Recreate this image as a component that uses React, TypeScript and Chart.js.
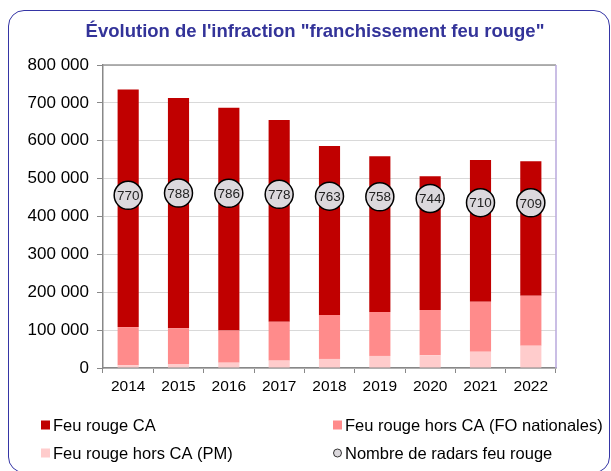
import React, { useEffect, useRef } from "react";
import { Chart, registerables } from "chart.js";

Chart.register(...registerables);

const years = ["2014", "2015", "2016", "2017", "2018", "2019", "2020", "2021", "2022"];
const feuRougeCA = [627000, 608000, 588000, 533000, 446000, 411000, 353000, 374000, 355000];
const horsCaFO = [101000, 94500, 85000, 102500, 116000, 116000, 119500, 132000, 132000];
const horsCaPM = [7000, 10500, 14000, 19500, 24000, 32000, 33500, 43000, 59000];
const radars = [770, 788, 786, 778, 763, 758, 744, 710, 709];

const titleText = "Évolution de l'infraction \"franchissement feu rouge\"";
const legendLabels = [
  "Feu rouge CA",
  "Feu rouge hors CA (FO nationales)",
  "Feu rouge hors CA (PM)",
  "Nombre de radars feu rouge",
];

const FONT = "'Liberation Sans', Arial, sans-serif";
const C_CA = "#c00000";
const C_FO = "#ff8b8b";
const C_PM = "#ffcccc";
const C_PT = "#dcd9dd";

function fmt(v: number): string {
  const s = Math.round(v).toString();
  return s.replace(/\B(?=(\d{3})+(?!\d))/g, " ");
}

const extrasPlugin = {
  id: "extras",
  afterDatasetsDraw(chart: any) {
    const ctx = chart.ctx;
    const meta = chart.getDatasetMeta(3);
    ctx.save();
    ctx.font = `13.5px ${FONT}`;
    ctx.fillStyle = "#222";
    ctx.textAlign = "center";
    ctx.textBaseline = "middle";
    meta.data.forEach((el: any, i: number) => {
      ctx.fillText(String(radars[i]), el.x, el.y + 1);
    });
    ctx.restore();
  },
  afterDraw(chart: any) {
    const ctx = chart.ctx;
    const a = chart.chartArea;
    ctx.save();
    // title
    ctx.font = `bold 18.5px ${FONT}`;
    ctx.fillStyle = "#333399";
    ctx.textAlign = "center";
    ctx.textBaseline = "middle";
    ctx.fillText(titleText, 315, 32);

    // plot border top / right
    ctx.lineWidth = 1.5;
    ctx.strokeStyle = "#999";
    ctx.beginPath();
    ctx.moveTo(a.left, a.top);
    ctx.lineTo(a.right, a.top);
    ctx.stroke();
    ctx.strokeStyle = "#b9a9dc";
    ctx.beginPath();
    ctx.moveTo(a.right, a.top);
    ctx.lineTo(a.right, a.bottom);
    ctx.stroke();

    // legend
    ctx.font = `16.5px ${FONT}`;
    ctx.textBaseline = "middle";
    ctx.textAlign = "left";
    const items = [
      { x: 41, y: 425, c: C_CA, t: legendLabels[0], shape: "sq" },
      { x: 333, y: 425, c: C_FO, t: legendLabels[1], shape: "sq" },
      { x: 41, y: 453, c: C_PM, t: legendLabels[2], shape: "sq" },
      { x: 333, y: 453, c: C_PT, t: legendLabels[3], shape: "ci" },
    ];
    items.forEach((it) => {
      if (it.shape === "sq") {
        ctx.fillStyle = it.c;
        ctx.fillRect(it.x, it.y - 4.5, 9, 9);
      } else {
        ctx.beginPath();
        ctx.arc(it.x + 4.5, it.y, 4, 0, Math.PI * 2);
        ctx.fillStyle = it.c;
        ctx.fill();
        ctx.lineWidth = 1;
        ctx.strokeStyle = "#333";
        ctx.stroke();
      }
      ctx.fillStyle = "#000";
      ctx.fillText(it.t, it.x + 12, it.y + 1);
    });
    ctx.restore();
  },
};

export default function App() {
  const ref = useRef<HTMLCanvasElement | null>(null);
  useEffect(() => {
    if (!ref.current) return;
    const chart = new Chart(ref.current, {
      type: "bar",
      data: {
        labels: years,
        datasets: [
          {
            type: "bar",
            label: legendLabels[2],
            data: horsCaPM,
            backgroundColor: C_PM,
            stack: "s",
            order: 1,
          },
          {
            type: "bar",
            label: legendLabels[1],
            data: horsCaFO,
            backgroundColor: C_FO,
            stack: "s",
            order: 1,
          },
          {
            type: "bar",
            label: legendLabels[0],
            data: feuRougeCA,
            backgroundColor: C_CA,
            stack: "s",
            order: 1,
          },
          {
            type: "line",
            label: legendLabels[3],
            data: radars,
            yAxisID: "y2",
            showLine: false,
            pointRadius: 14,
            pointHoverRadius: 14,
            pointBackgroundColor: C_PT,
            pointBorderColor: "#000",
            pointBorderWidth: 1.5,
            order: 0,
          } as any,
        ],
      },
      options: {
        animation: false,
        responsive: false,
        maintainAspectRatio: false,
        datasets: {
          bar: { barPercentage: 0.42, categoryPercentage: 1 },
        } as any,
        layout: { padding: { left: 0, right: 55, top: 65, bottom: 73 } },
        plugins: {
          legend: { display: false },
          tooltip: { enabled: false },
          title: { display: false },
        },
        scales: {
          x: {
            stacked: true,
            grid: {
              display: true,
              drawOnChartArea: false,
              drawTicks: true,
              tickLength: 5,
              tickColor: "#888",
              offset: true,
            },
            border: { display: true, color: "#888", width: 1.5 },
            ticks: {
              color: "#000",
              font: { family: FONT, size: 15.5 },
              padding: 4,
              maxRotation: 0,
            },
            afterFit: (s: any) => {
              s.height = 30;
            },
          },
          y: {
            stacked: true,
            min: 0,
            max: 800000,
            ticks: {
              stepSize: 100000,
              color: "#000",
              font: { family: FONT, size: 17 },
              padding: 8,
              callback: (v: any) => fmt(Number(v)),
            },
            grid: {
              color: "#d9d9d9",
              lineWidth: 1,
              drawTicks: true,
              tickLength: 6,
              tickColor: "#888",
            },
            border: { display: true, color: "#888", width: 1.5 },
            afterFit: (s: any) => {
              s.width = 103;
            },
          },
          y2: {
            display: false,
            position: "right",
            min: -635,
            max: 1830,
            grid: { drawOnChartArea: false },
          },
        },
      },
      plugins: [extrasPlugin],
    });
    return () => chart.destroy();
  }, []);

  return (
    <div
      style={{
        position: "fixed",
        left: 0,
        top: 0,
        width: 611,
        height: 471,
        overflow: "hidden",
        background: "#fff",
      }}
    >
      <div
        style={{
          position: "absolute",
          left: 8,
          top: 10,
          width: 602,
          height: 463,
          border: "1.5px solid #3535a5",
          borderRadius: 16,
          boxSizing: "border-box",
        }}
      />
      <canvas
        ref={ref}
        width={611}
        height={471}
        style={{ position: "absolute", left: 0, top: 0, width: 611, height: 471 }}
      />
    </div>
  );
}
